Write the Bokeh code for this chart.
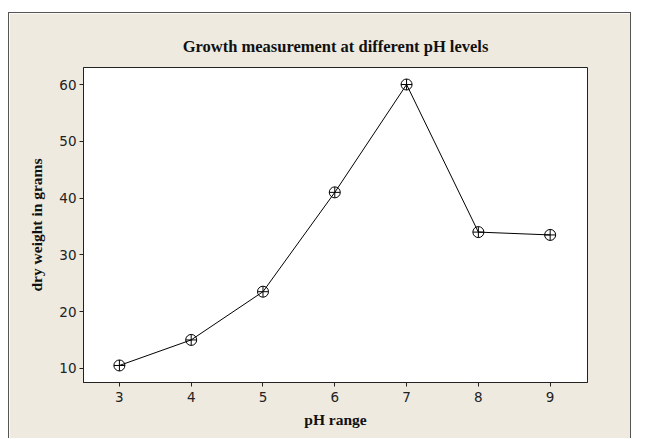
from bokeh.plotting import figure
from bokeh.models import FixedTicker, Range1d
from bokeh.embed import file_html
from bokeh.resources import INLINE

ph = [3, 4, 5, 6, 7, 8, 9]
dry_weight = [10.5, 15.0, 23.5, 41.0, 60.0, 34.0, 33.5]
x_ticks = [3, 4, 5, 6, 7, 8, 9]
y_ticks = [10, 20, 30, 40, 50, 60]

BEIGE = "#EEEAE0"

p = figure(
    output_backend="svg", toolbar_location=None,
    width=621, height=425,
    frame_width=504, frame_height=315,
    min_border_left=74, min_border_right=43, min_border_top=54, min_border_bottom=56,
    x_range=Range1d(2.5, 9.52), y_range=Range1d(7.5, 63),
    title="Growth measurement at different pH levels",
    border_fill_color=BEIGE, background_fill_color="white",
    outline_line_color="#222222",
    styles={"border-top": "1px solid #555555", "border-left": "1px solid #555555",
            "border-right": "1px solid #555555", "margin-top": "12px",
            "margin-left": "8px"},
)
p.title.align = "center"
p.title.text_font = "Liberation Serif"
p.title.text_font_size = "16.5px"
p.title.text_font_style = "bold"
p.title.text_color = "#111111"
p.title.standoff = 24

p.grid.visible = False

for ax in (p.xaxis[0], p.yaxis[0]):
    ax.axis_line_color = "#222222"
    ax.major_tick_line_color = "#222222"
    ax.major_tick_out = 4
    ax.major_tick_in = 0
    ax.minor_tick_line_color = None
    ax.major_label_text_font = "DejaVu Sans"
    ax.major_label_text_font_size = "13.5px"
    ax.major_label_text_color = "#222222"
    ax.axis_label_text_font = "Liberation Serif"
    ax.axis_label_text_font_size = "15.5px"
    ax.axis_label_text_font_style = "bold"
    ax.axis_label_text_color = "#111111"

p.xaxis.ticker = FixedTicker(ticks=x_ticks)
p.yaxis.ticker = FixedTicker(ticks=y_ticks)
p.xaxis.axis_label = "pH range"
p.yaxis.axis_label = "dry weight in grams"
p.xaxis.major_label_standoff = 5
p.yaxis.major_label_standoff = 3
p.xaxis.axis_label_standoff = 6
p.yaxis.axis_label_standoff = 11

p.line(ph, dry_weight, line_color="black", line_width=1)
p.scatter(ph, dry_weight, marker="circle_cross", size=11,
          line_color="black", fill_color=None, line_width=1)

open("out.html", "w").write(file_html(p, INLINE))
